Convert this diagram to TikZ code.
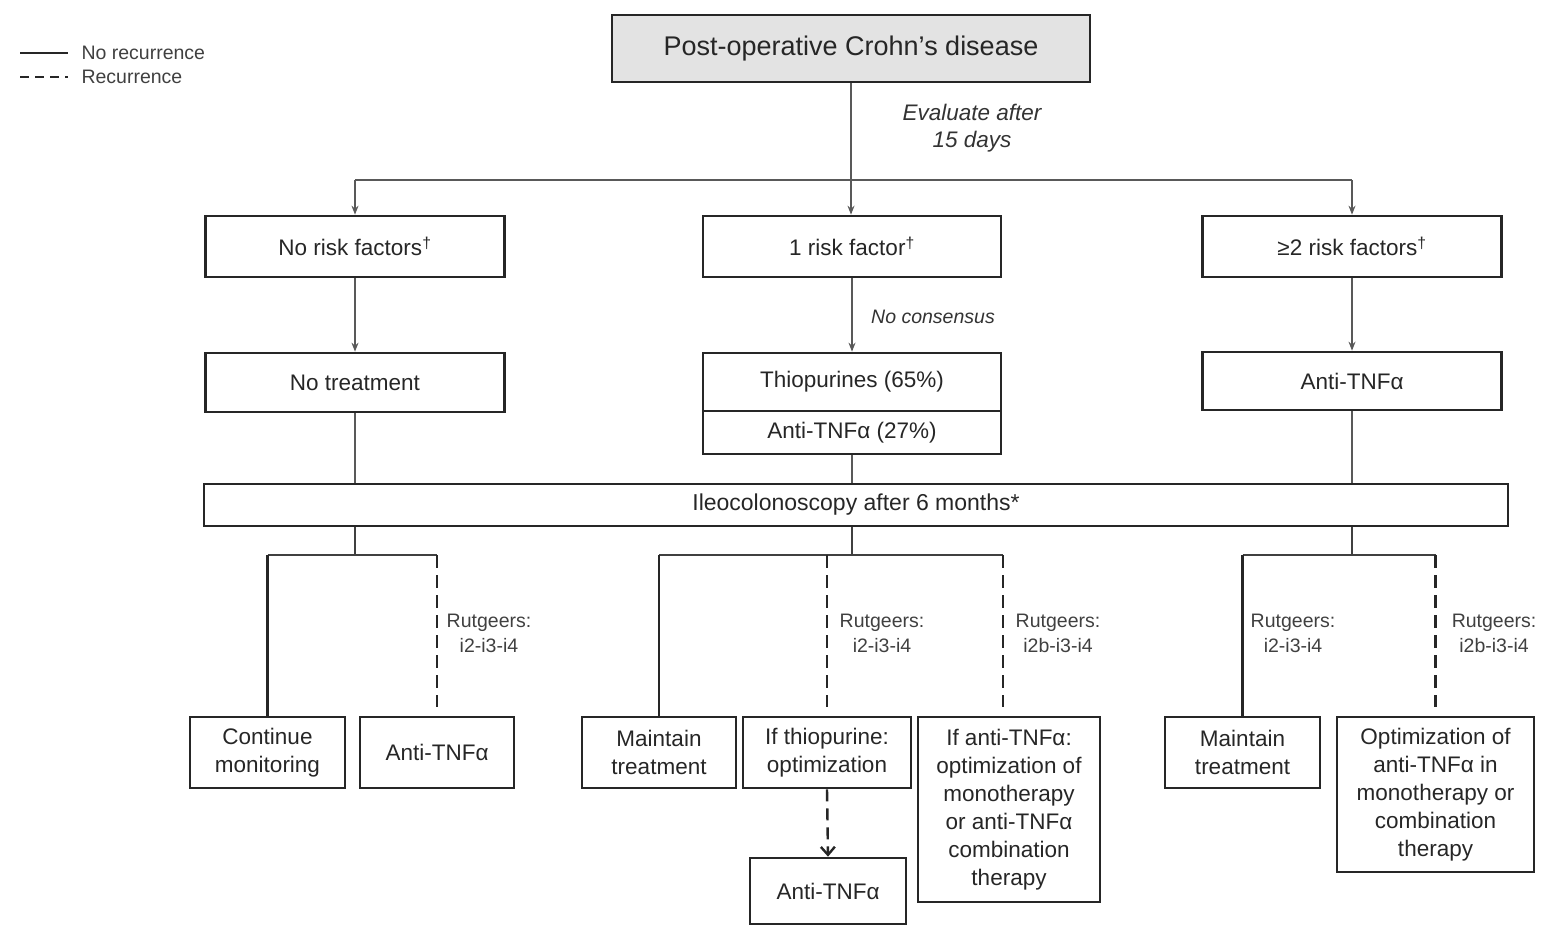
\documentclass[tikz,border=0pt]{standalone}
\usepackage{fontspec}
\setmainfont{Liberation Sans}
\usetikzlibrary{arrows.meta,calc}
\begin{document}
\begin{tikzpicture}[x=1pt,y=-1pt,
  box/.style={draw=black!85,line width=2.7pt,inner sep=2pt,align=center,font=\fontsize{22.5}{28}\selectfont,text=black!85},
  conn/.style={draw=black!65,line width=1.1pt},
  arr/.style={-{Stealth[length=9pt,width=7pt]}},
  stem/.style={draw=black!75,line width=1.5pt},
  yesline/.style={draw=black!85,line width=2.8pt},
  noline/.style={draw=black!85,line width=2.8pt,dash pattern=on 13pt off 7pt},
  lab/.style={align=center,font=\fontsize{19.5}{25}\selectfont,text=black!75},
  note/.style={align=center,font=\fontsize{22.5}{27}\selectfont\itshape,text=black!80},
]
\useasboundingbox (0,0) rectangle (1541,927);

% legend
\draw[yesline,line width=2.4pt] (20,53) -- (68,53);
\draw[noline,line width=2.4pt,dash pattern=on 9pt off 6pt] (20,77) -- (68,77);
\node[anchor=west,font=\fontsize{19.5}{22}\selectfont,text=black!75] (lg1) at (78,53) {No recurrence};
\node[anchor=west,font=\fontsize{19.5}{22}\selectfont,text=black!75] (lg2) at (78,77) {Recurrence};

% nodes
\node[box,fill=black!11,minimum width=478pt,minimum height=67pt,font=\fontsize{27}{32}\selectfont] (top) at (851,48.5) {Post-operative Crohn's disease};
\node[box,minimum width=299pt,minimum height=61pt] (nrf) at (355,246.5) {No risk factors\textsuperscript{†}};
\node[box,minimum width=298pt,minimum height=61pt] (orf) at (852,246.5) {1 risk factor\textsuperscript{†}};
\node[box,minimum width=299pt,minimum height=61pt] (trf) at (1352,246.5) {≥2 risk factors\textsuperscript{†}};
\node[box,minimum width=299pt,minimum height=59pt] (notr) at (355,382.5) {No treatment};
\node[box,minimum width=298pt,minimum height=58pt] (thio) at (852,382) {Thiopurines (65\%)};
\node[box,minimum width=298pt,minimum height=43pt] (at27) at (852,432.5) {Anti-TNFα (27\%)};
\node[box,minimum width=299pt,minimum height=58pt] (atR) at (1352,381) {Anti-TNFα};
\node[box,minimum width=1304pt,minimum height=42pt,font=\fontsize{23}{26}\selectfont] (ileo) at (856,505) {Ileocolonoscopy after 6 months*};

\node[box,minimum width=155pt,minimum height=71pt] (cm) at (267.5,752.5) {Continue\\monitoring};
\node[box,minimum width=154pt,minimum height=71pt] (at1) at (437,752.5) {Anti-TNFα};
\node[box,minimum width=154pt,minimum height=71pt] (mt1) at (659,752.5) {Maintain\\treatment};
\node[box,minimum width=168pt,minimum height=71pt] (ift) at (827,752.5) {If thiopurine:\\optimization};
\node[box,minimum width=182pt,minimum height=185pt] (ifa) at (1009,809.5) {If anti-TNFα:\\optimization of\\monotherapy\\or anti-TNFα\\combination\\therapy};
\node[box,minimum width=156pt,minimum height=66pt] (at2) at (828,891) {Anti-TNFα};
\node[box,minimum width=155pt,minimum height=71pt] (mt2) at (1242.5,752.5) {Maintain\\treatment};
\node[box,minimum width=197pt,minimum height=155pt] (opt) at (1435.5,794.5) {Optimization of\\anti-TNFα in\\monotherapy or\\combination\\therapy};

% top connectors
\coordinate (split) at (851,180);
\draw[conn,arr] (top.south) -- (top.south |- orf.north);
\draw[conn] (split -| nrf.north) -- (split -| trf.north);
\draw[conn,arr] (split -| nrf.north) -- (nrf.north);
\draw[conn,arr] (split -| trf.north) -- (trf.north);
\node[note] (eval) at (972,128) {Evaluate after\\15 days};

\draw[conn,arr] (nrf.south) -- (notr.north);
\draw[conn,arr] (orf.south) -- (thio.north);
\draw[conn,arr] (trf.south) -- (atR.north);
\node[note,font=\fontsize{19.5}{22}\selectfont\itshape] (nocons) at (933,317) {No consensus};

\draw[conn] (notr.south) -- (notr.south |- ileo.north);
\draw[conn] (at27.south) -- (at27.south |- ileo.north);
\draw[conn] (atR.south) -- (atR.south |- ileo.north);

% lower branches
\coordinate (bar) at (0,555);
% left
\draw[stem] (notr.south |- ileo.south) -- (notr.south |- bar);
\draw[stem] (bar -| cm.north) -- (bar -| at1.north);
\draw[yesline] (bar -| cm.north) -- (cm.north);
\draw[noline,shorten >=9pt] (bar -| at1.north) -- (at1.north);
\node[lab] (r1) at (489,633) {Rutgeers:\\i2-i3-i4};
% middle
\coordinate (ifaline) at ([xshift=-6pt]ifa.north);
\draw[stem] (at27.south |- ileo.south) -- (at27.south |- bar);
\draw[stem] (bar -| mt1.north) -- (bar -| ifaline);
\draw[yesline] (bar -| mt1.north) -- (mt1.north);
\draw[noline,shorten >=9pt] (bar -| ift.north) -- (ift.north);
\draw[noline,shorten >=9pt] (bar -| ifaline) -- (ifaline);
\node[lab] (r2) at (882,633) {Rutgeers:\\i2-i3-i4};
\node[lab] (r3) at (1058,633) {Rutgeers:\\i2b-i3-i4};
\draw[noline,line width=2.4pt,dash pattern=on 12pt off 7pt,-{Straight Barb[length=8pt,width=14pt]}] (ift.south) -- (at2.north);
% right
\draw[stem] (atR.south |- ileo.south) -- (atR.south |- bar);
\draw[stem] (bar -| mt2.north) -- (bar -| opt.north);
\draw[yesline] (bar -| mt2.north) -- (mt2.north);
\draw[noline,shorten >=9pt] (bar -| opt.north) -- (opt.north);
\node[lab] (r4) at (1293,633) {Rutgeers:\\i2-i3-i4};
\node[lab] (r5) at (1494,633) {Rutgeers:\\i2b-i3-i4};
\end{tikzpicture}
\end{document}
